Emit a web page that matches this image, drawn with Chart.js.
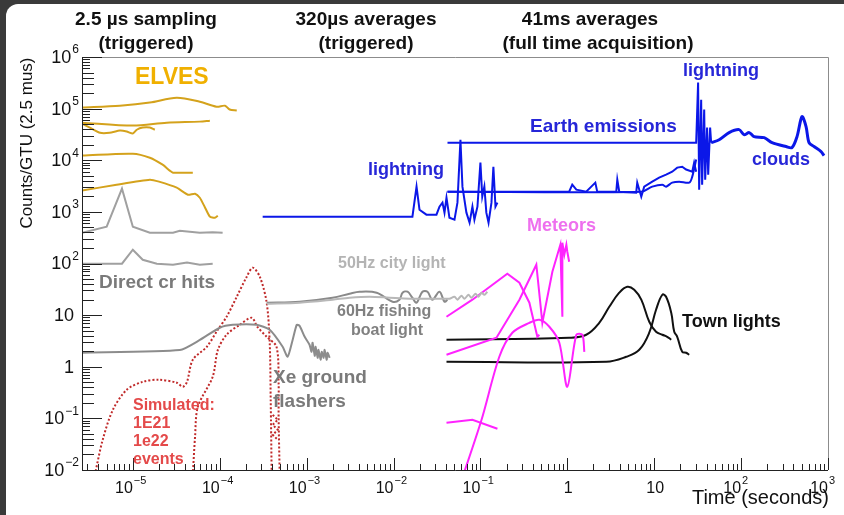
<!DOCTYPE html>
<html>
<head>
<meta charset="utf-8">
<script src="https://cdn.jsdelivr.net/npm/chart.js@4"></script>
<style>
  html, body { margin: 0; padding: 0; background: #3a3a3a; }
  canvas { display: block; }
</style>
</head>
<body>
<canvas id="chart" width="844" height="515"></canvas>
<script>
// ---- data (time in seconds, counts per GTU) ----
const elvesA_x = [2.6e-6, 7.1e-6, 1.57e-5, 3.2e-5, 5.9e-5, 9.2e-5, 1.15e-4, 1.3e-4, 1.57e-4];
const elvesA_y = [1.05e5, 1.14e5, 1.31e5, 1.63e5, 1.36e5, 1.09e5, 1.14e5, 9.6e4, 9.2e4];
const elvesB_x = [2.6e-6, 1e-5, 2.46e-5, 5.9e-5, 7.7e-5];
const elvesB_y = [5.35e4, 4.69e4, 5.35e4, 5.6e4, 5.85e4];
const elvesC_x = [2.6e-6, 3.2e-6, 4.2e-6, 5.4e-6, 7.1e-6, 8.5e-6, 1e-5, 1.11e-5, 1.3e-5, 1.57e-5, 1.79e-5];
const elvesC_y = [5.1e4, 4.3e4, 3.4e4, 3.4e4, 3.75e4, 3.6e4, 3.3e4, 3.9e4, 4.3e4, 4.3e4, 3.9e4];
const elvesD_x = [2.6e-6, 1e-5, 1.57e-5, 2.2e-5, 2.66e-5, 2.9e-5, 3.76e-5, 4.9e-5];
const elvesD_y = [1.23e4, 1.34e4, 1.12e4, 8.2e3, 6.3e3, 5.75e3, 5.75e3, 5.75e3];
const elvesE_x = [2.6e-6, 6.5e-6, 1.57e-5, 2.0e-5, 3.2e-5, 4.3e-5, 5.2e-5, 5.9e-5, 6.7e-5, 7.7e-5, 8.8e-5, 9.5e-5];
const elvesE_y = [2580, 3360, 4200, 3850, 2940, 2150, 2250, 1880, 1260, 808, 772, 843];

const crA_x = [2.6e-6, 5.0e-6, 7.5e-6, 1e-5, 1.57e-5, 2.9e-5, 3.47e-5, 5.9e-5, 8.3e-5, 1.08e-4];
const crA_y = [395, 517, 2820, 517, 395, 395, 432, 395, 405, 395];
const crB_x = [2.6e-6, 7.5e-6, 1e-5, 1.3e-5, 1.89e-5, 2.9e-5, 4.2e-5, 5.9e-5, 8.3e-5];
const crB_y = [99, 99, 185, 118, 99, 95, 104, 95, 99];

const sim21_x = [3.65e-6, 4.5e-6, 5.9e-6, 8.5e-6, 1.3e-5, 2.0e-5, 3.2e-5, 3.76e-5, 4.2e-5, 4.9e-5, 7.1e-5, 9.5e-5, 1.2e-4, 1.57e-4, 2.04e-4, 2.4e-4, 2.9e-4, 3.47e-4, 3.76e-4, 3.86e-4, 3.96e-4];
const sim21_y = [0.008, 0.0385, 0.147, 0.358, 0.51, 0.56, 0.49, 0.41, 0.51, 1.37, 2.44, 5.2, 9.3, 22.7, 55, 83, 55, 17.4, 2.9, 0.23, 0.008];
const sim22_x = [4.9e-5, 5.2e-5, 5.6e-5, 8.3e-5, 9.5e-5, 1.2e-4, 1.7e-4, 2.33e-4, 2.7e-4, 3.47e-4, 4.5e-4, 4.76e-4, 4.76e-4, 4.9e-4];
const sim22_y = [0.008, 0.044, 0.168, 0.64, 2.1, 4.2, 6.5, 8.9, 6.0, 3.8, 2.44, 0.49, 0.107, 0.008];
const simTail_x = [4.07e-4, 4.65e-4, 4.07e-4, 4.65e-4, 4.07e-4, 4.65e-4];
const simTail_y = [0.117, 0.094, 0.075, 0.060, 0.048, 0.0385];

const xe_x = [2.6e-6, 3.47e-5, 5.9e-5, 1.0e-4, 1.41e-4, 2.66e-4, 3.76e-4, 5.3e-4, 6.05e-4, 6.9e-4, 7.7e-4, 8.3e-4, 9.5e-4, 1.08e-3, 1.14e-3, 1.17e-3, 1.24e-3, 1.27e-3, 1.34e-3, 1.37e-3, 1.45e-3, 1.49e-3, 1.57e-3, 1.61e-3, 1.70e-3, 1.74e-3, 1.84e-3];
const xe_y = [1.87, 2.1, 3.3, 5.7, 6.5, 6.5, 5.2, 2.44, 1.56, 3.3, 6.5, 6.2, 3.8, 2.67, 1.95, 2.92, 1.63, 2.44, 1.49, 2.13, 1.37, 1.95, 1.49, 2.13, 1.37, 1.87, 1.49];

const boat60_x = [3.47e-4, 8.3e-4, 1.99e-3, 3.12e-3, 4.06e-3, 6.4e-3, 9.75e-3, 1.17e-2, 1.27e-2, 1.45e-2, 1.65e-2, 1.84e-2, 2.15e-2, 2.46e-2, 2.8e-2, 3.38e-2, 3.86e-2, 4.18e-2];
const boat60_y = [17.4, 18.2, 21.7, 26.0, 28.4, 27.2, 18.2, 19.9, 27.2, 28.4, 21.7, 17.4, 28.4, 28.4, 19.9, 28.4, 18.2, 19.9];
const city50_x = [3.47e-4, 8.3e-4, 1.99e-3, 3.12e-3, 5.3e-3, 9.0e-3, 1.53e-2, 2.6e-2, 4.07e-2, 4.4e-2, 5.03e-2, 5.44e-2, 6.05e-2, 6.55e-2, 7.28e-2, 7.88e-2, 8.77e-2, 9.49e-2, 0.103, 0.111, 0.12];
const city50_y = [16.6, 17.4, 19.9, 21.7, 22.7, 21.7, 20.8, 20.8, 20.8, 20.8, 22.7, 19.9, 23.8, 20.8, 24.8, 21.7, 26.0, 22.7, 27.2, 24.8, 28.4];

const light320_x = [3.12e-4, 1.65e-2, 1.84e-2, 1.99e-2, 2.39e-2, 3.12e-2, 3.38e-2, 3.66e-2, 3.86e-2, 4.07e-2, 4.4e-2, 5.03e-2, 5.44e-2, 5.89e-2, 6.21e-2, 6.9e-2, 7.5e-2, 8.09e-2, 8.53e-2, 9.24e-2, 0.1, 0.105, 0.111, 0.117, 0.124, 0.134, 0.141, 0.149, 0.157];
const light320_y = [808, 808, 3080, 1100, 883, 883, 1260, 1510, 965, 1880, 772, 706, 1510, 25000, 3080, 965, 618, 1260, 706, 1260, 8980, 1970, 3080, 965, 618, 1510, 7500, 1260, 1510];
const earth_x = [4.18e-2, 30.4, 32.0, 32.9, 34.7, 35.6, 37.6, 38.6, 40.6, 41.8, 44.0, 45.2];
const earth_y = [2.19e4, 2.19e4, 3.19e5, 2690, 1.49e5, 3360, 9.6e4, 4200, 4.3e4, 5260, 4.3e4, 2.19e4];
const clouds_x = [45.2, 55.9, 72.8, 94.9, 108, 124, 141, 184, 227, 329, 385, 440, 502, 559, 605, 691, 832, 900];
const clouds_y = [2.19e4, 2.5e4, 3.43e4, 3.92e4, 3.13e4, 3.43e4, 2.87e4, 2.74e4, 2.19e4, 1.84e4, 1.76e4, 2.87e4, 7.0e4, 4.48e4, 2.19e4, 1.84e4, 1.47e4, 1.23e4];
const full41a_x = [4.18e-2, 1.05, 1.14, 1.27, 1.65, 2.1, 2.21, 3.66, 3.76, 3.96, 6.2, 6.38, 7.1, 7.67, 9.5, 11.4, 13.7, 16.1, 18.4, 21.0, 23.3, 27.4, 28.8, 30.4];
const full41a_y = [2460, 2460, 3360, 2690, 2460, 3680, 2460, 2460, 4200, 2460, 2350, 3680, 1970, 3080, 3850, 4600, 5260, 6000, 7200, 7500, 6600, 6000, 8980, 6000];
const full41b_x = [4.18e-2, 7.1, 9.5, 12.4, 13.7, 16.1, 19.4, 25.3, 27.4, 30.4];
const full41b_y = [2460, 2460, 3080, 3360, 3080, 3680, 3850, 3680, 4810, 10300];

const meteorA_x = [0.0407, 0.0809, 0.204, 0.281, 0.366, 0.452, 0.477];
const meteorA_y = [9.3, 19.9, 63.4, 42.5, 17.4, 3.8, 4.17];
const meteorB_x = [0.0407, 0.153, 0.281, 0.44, 0.516, 0.673, 0.831, 0.877, 0.877, 0.924, 0.975, 1.0, 1.05];
const meteorB_y = [1.71, 3.65, 19.9, 94.8, 7.1, 69.4, 231, 9.3, 253, 148, 231, 169, 108];
const meteorC_x = [0.06, 0.103, 0.165, 0.233, 0.366, 0.477, 0.621, 0.809, 1.0, 1.27, 1.49, 1.57];
const meteorC_y = [0.006, 0.094, 1.56, 4.56, 7.1, 8.15, 5.96, 2.92, 0.41, 4.17, 4.17, 1.95];
const meteorD_x = [0.0407, 0.0809, 0.157];
const meteorD_y = [0.082, 0.094, 0.063];

const townA_x = [0.0407, 1.05, 1.65, 2.33, 3.04, 3.96, 4.9, 5.89, 7.1, 8.77, 10.5, 12.4, 14.1, 15.7];
const townA_y = [3.34, 3.65, 4.17, 7.1, 14.5, 27.2, 35.5, 31.0, 19.9, 7.45, 4.77, 4.17, 3.81, 3.34];
const townB_x = [0.0407, 2.81, 4.77, 6.73, 8.77, 10.5, 12.4, 13.7, 15.7, 17.0, 18.4, 21.0, 23.3, 25.3];
const townB_y = [1.25, 1.25, 1.56, 2.13, 4.56, 12.7, 24.8, 22.7, 11.1, 4.77, 3.81, 1.95, 1.87, 1.71];

// ---- tick labels ----
const yDecades = [6, 5, 4, 3, 2, 1, 0, -1, -2];
const xDecades = [-5, -4, -3, -2, -1, 0, 1, 2, 3];

const FONT = '"Liberation Sans", Arial, sans-serif';

function pts(xs, ys) {
  return xs.map((x, i) => ({ x: x, y: ys[i] }));
}
function line(xs, ys, color, width, extra) {
  return Object.assign({
    data: pts(xs, ys),
    showLine: true,
    borderColor: color,
    borderWidth: width,
    pointRadius: 0,
    tension: 0,
    fill: false
  }, extra || {});
}

const gold = '#d4a21c';
const blue = '#0b17e8';
const magenta = '#ff22ff';
const red = '#c02a2a';
const dots = { borderDash: [2, 2], tension: 0.3 };

const notes = [
  { t: '2.5 µs sampling', x: 146, y: 20, c: '#111', f: 'bold 19px', a: 'center' },
  { t: '(triggered)', x: 146, y: 44, c: '#111', f: 'bold 19px', a: 'center' },
  { t: '320µs averages', x: 366, y: 20, c: '#111', f: 'bold 19px', a: 'center' },
  { t: '(triggered)', x: 366, y: 44, c: '#111', f: 'bold 19px', a: 'center' },
  { t: '41ms averages', x: 590, y: 20, c: '#111', f: 'bold 19px', a: 'center' },
  { t: '(full time acquisition)', x: 598, y: 44, c: '#111', f: 'bold 19px', a: 'center' },
  { t: 'ELVES', x: 135, y: 78, c: '#f0b000', f: 'bold 23px', a: 'left' },
  { t: 'Direct cr hits', x: 99, y: 283, c: '#7a7a7a', f: 'bold 19px', a: 'left' },
  { t: '50Hz city light', x: 338, y: 264, c: '#b4b4b4', f: 'bold 16px', a: 'left' },
  { t: '60Hz fishing', x: 337, y: 312, c: '#808080', f: 'bold 16px', a: 'left' },
  { t: 'boat light', x: 387, y: 331, c: '#808080', f: 'bold 16px', a: 'center' },
  { t: 'Xe ground', x: 273, y: 378, c: '#7a7a7a', f: 'bold 19px', a: 'left' },
  { t: 'flashers', x: 273, y: 402, c: '#7a7a7a', f: 'bold 19px', a: 'left' },
  { t: 'Simulated:', x: 133, y: 406, c: '#e44a4a', f: 'bold 16px', a: 'left' },
  { t: '1E21', x: 133, y: 424, c: '#e44a4a', f: 'bold 16px', a: 'left' },
  { t: '1e22', x: 133, y: 442, c: '#e44a4a', f: 'bold 16px', a: 'left' },
  { t: 'events', x: 133, y: 460, c: '#e44a4a', f: 'bold 16px', a: 'left' },
  { t: 'lightning', x: 368, y: 170, c: '#2626d8', f: 'bold 18px', a: 'left' },
  { t: 'Earth emissions', x: 530, y: 127, c: '#2626d8', f: 'bold 19px', a: 'left' },
  { t: 'lightning', x: 683, y: 71, c: '#2626d8', f: 'bold 18px', a: 'left' },
  { t: 'clouds', x: 752, y: 160, c: '#2626d8', f: 'bold 18px', a: 'left' },
  { t: 'Meteors', x: 527, y: 226, c: '#ee70ee', f: 'bold 18px', a: 'left' },
  { t: 'Town lights', x: 682, y: 322, c: '#111', f: 'bold 18px', a: 'left' }
];

const cardPlugin = {
  id: 'card',
  beforeDraw(chart) {
    const ctx = chart.ctx;
    ctx.save();
    ctx.fillStyle = '#3a3a3a';
    ctx.fillRect(0, 0, chart.width, chart.height);
    ctx.fillStyle = '#ffffff';
    ctx.beginPath();
    ctx.roundRect(6, 4, chart.width - 6, chart.height - 4, [12, 0, 0, 0]);
    ctx.fill();
    ctx.restore();
  }
};

function drawPower(ctx, exp, x, y, mode) {
  // mode 'y': right aligned at x; mode 'x': "10" ends at x
  const big = mode === 'y' ? 18 : 16;
  const small = mode === 'y' ? 12 : 11;
  ctx.textBaseline = 'middle';
  if (exp === 0 || exp === 1) {
    const s = exp === 0 ? '1' : '10';
    ctx.font = big + 'px ' + FONT;
    ctx.textAlign = mode === 'y' ? 'right' : 'center';
    ctx.fillText(s, mode === 'y' ? x - 5 : x + 1, y);
    return;
  }
  const sup = exp < 0 ? '\u2212' + (-exp) : String(exp);
  ctx.font = small + 'px ' + FONT;
  const sw = ctx.measureText(sup).width;
  ctx.font = big + 'px ' + FONT;
  const baseRight = mode === 'y' ? x - sw - 1 : x;
  ctx.textAlign = 'right';
  ctx.fillText('10', baseRight, y);
  ctx.font = small + 'px ' + FONT;
  ctx.textAlign = 'left';
  ctx.fillText(sup, baseRight + 1, y - 8);
}

const axesPlugin = {
  id: 'rootAxes',
  afterDraw(chart) {
    const ctx = chart.ctx;
    const a = chart.chartArea;
    const xs = chart.scales.x, ys = chart.scales.y;
    ctx.save();
    // frame
    ctx.strokeStyle = '#8c8c8c';
    ctx.lineWidth = 1;
    ctx.beginPath();
    ctx.moveTo(a.left, a.top + 0.5);
    ctx.lineTo(a.right + 0.5, a.top + 0.5);
    ctx.lineTo(a.right + 0.5, a.bottom);
    ctx.stroke();
    ctx.strokeStyle = '#222';
    ctx.beginPath();
    ctx.moveTo(a.left + 0.5, a.top);
    ctx.lineTo(a.left + 0.5, a.bottom + 0.5);
    ctx.lineTo(a.right, a.bottom + 0.5);
    ctx.stroke();
    // y ticks
    ctx.beginPath();
    for (let d = -2; d <= 6; d++) {
      const py = Math.round(ys.getPixelForValue(Math.pow(10, d))) + 0.5;
      ctx.moveTo(a.left, py); ctx.lineTo(a.left + 20, py);
      if (d < 6) {
        for (let k = 2; k <= 9; k++) {
          const my = Math.round(ys.getPixelForValue(k * Math.pow(10, d))) + 0.5;
          const len = k <= 5 ? 12 : 8;
          ctx.moveTo(a.left, my); ctx.lineTo(a.left + len, my);
        }
      }
    }
    // x ticks
    for (let d = -6; d <= 3; d++) {
      const v = Math.pow(10, d);
      if (v >= xs.min && v <= xs.max) {
        const px = Math.round(xs.getPixelForValue(v)) + 0.5;
        ctx.moveTo(px, a.bottom); ctx.lineTo(px, a.bottom - 12);
      }
      if (d < 3) {
        for (let k = 2; k <= 9; k++) {
          const mv = k * v;
          if (mv < xs.min || mv > xs.max) continue;
          const mx = Math.round(xs.getPixelForValue(mv)) + 0.5;
          ctx.moveTo(mx, a.bottom); ctx.lineTo(mx, a.bottom - 6);
        }
      }
    }
    ctx.stroke();
    // tick labels
    ctx.fillStyle = '#111';
    yDecades.forEach(d => drawPower(ctx, d, 79, ys.getPixelForValue(Math.pow(10, d)) + 1, 'y'));
    xDecades.forEach(d => drawPower(ctx, d, xs.getPixelForValue(Math.pow(10, d)), 489, 'x'));
    // axis titles
    ctx.font = '20px ' + FONT;
    ctx.textAlign = 'right';
    ctx.textBaseline = 'middle';
    ctx.fillText('Time (seconds)', 829, 498);
    ctx.save();
    ctx.translate(27, 143);
    ctx.rotate(-Math.PI / 2);
    ctx.font = '17px ' + FONT;
    ctx.textAlign = 'center';
    ctx.fillText('Counts/GTU (2.5 mus)', 0, 0);
    ctx.restore();
    // annotations
    notes.forEach(n => {
      ctx.font = n.f + ' ' + FONT;
      ctx.fillStyle = n.c;
      ctx.textAlign = n.a;
      ctx.textBaseline = 'middle';
      ctx.fillText(n.t, n.x, n.y);
    });
    ctx.restore();
  }
};

new Chart(document.getElementById('chart'), {
  type: 'scatter',
  data: {
    datasets: [
      line(elvesA_x, elvesA_y, gold, 2, { tension: 0.3 }),
      line(elvesB_x, elvesB_y, gold, 2, { tension: 0.3 }),
      line(elvesC_x, elvesC_y, gold, 2, { tension: 0.2 }),
      line(elvesD_x, elvesD_y, gold, 2, { tension: 0.3 }),
      line(elvesE_x, elvesE_y, gold, 2, { tension: 0.2 }),
      line(crA_x, crA_y, '#a0a0a0', 2),
      line(crB_x, crB_y, '#a0a0a0', 2),
      line(city50_x, city50_y, '#b8b8b8', 2, { tension: 0.3 }),
      line(boat60_x, boat60_y, '#8a8a8a', 2, { tension: 0.35 }),
      line(xe_x, xe_y, '#8c8c8c', 2, { tension: 0.2 }),
      line(sim21_x, sim21_y, red, 2, dots),
      line(sim22_x, sim22_y, red, 2, dots),
      line(simTail_x, simTail_y, red, 2, { borderDash: [2, 2] }),
      line(light320_x, light320_y, blue, 2),
      line(full41a_x, full41a_y, blue, 2),
      line(full41b_x, full41b_y, blue, 2, { tension: 0.3 }),
      line(earth_x, earth_y, blue, 2),
      line(clouds_x, clouds_y, blue, 3, { tension: 0.3 }),
      line(meteorA_x, meteorA_y, magenta, 2),
      line(meteorB_x, meteorB_y, magenta, 2),
      line(meteorC_x, meteorC_y, magenta, 2, { tension: 0.3 }),
      line(meteorD_x, meteorD_y, magenta, 2),
      line(townA_x, townA_y, '#111', 2, { tension: 0.4 }),
      line(townB_x, townB_y, '#111', 2, { tension: 0.4 })
    ]
  },
  options: {
    responsive: false,
    animation: false,
    layout: { padding: { left: 82, right: 16, top: 57, bottom: 45 } },
    plugins: { legend: { display: false }, tooltip: { enabled: false } },
    scales: {
      x: { type: 'logarithmic', min: 2.6e-6, max: 1000, display: false },
      y: { type: 'logarithmic', min: 0.01, max: 1e6, display: false }
    }
  },
  plugins: [cardPlugin, axesPlugin]
});
</script>
</body>
</html>
